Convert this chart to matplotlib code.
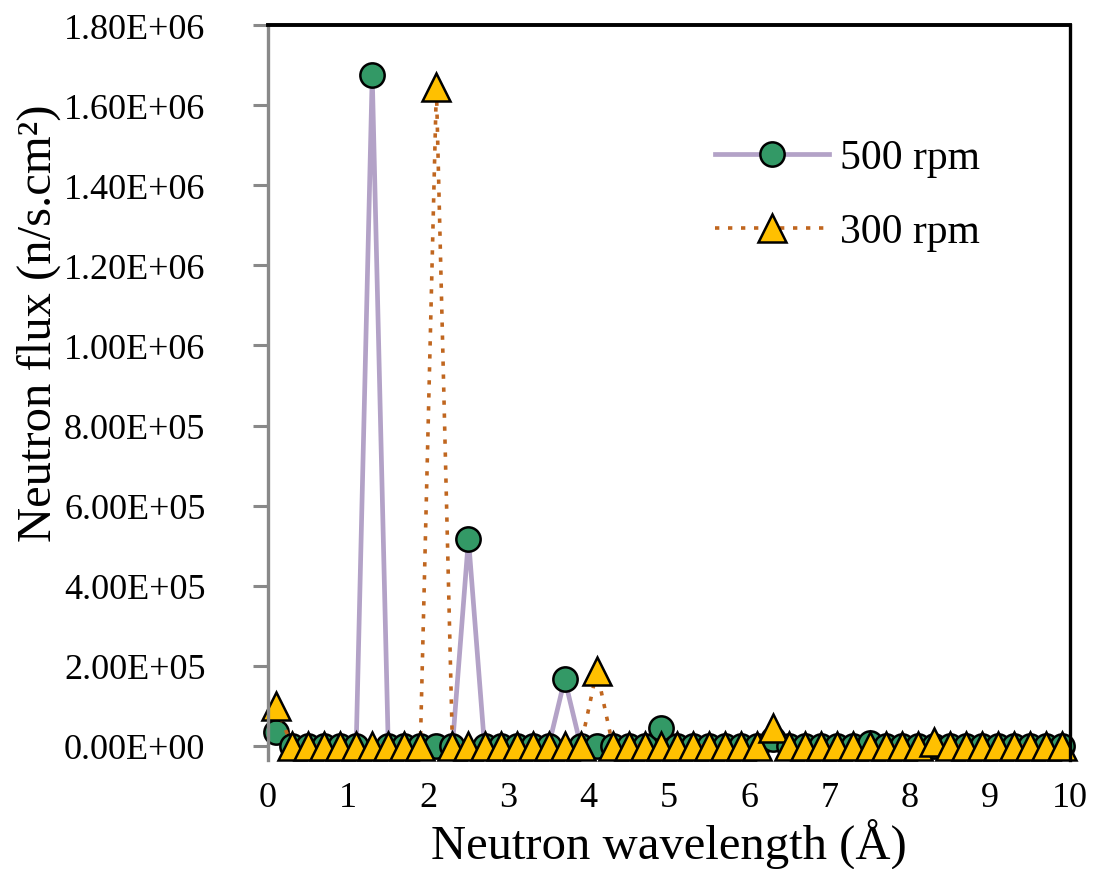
import matplotlib
matplotlib.use("Agg")
import matplotlib.pyplot as plt
from matplotlib.ticker import FormatStrFormatter

plt.rcParams['font.family'] = ['Liberation Serif', 'DejaVu Serif']

# wavelength grid (Angstrom), shared by both chopper speeds
wavelength = [0.1, 0.3, 0.5, 0.7, 0.9, 1.1, 1.3, 1.5, 1.7, 1.9,
              2.1, 2.3, 2.5, 2.7, 2.9, 3.1, 3.3, 3.5, 3.7, 3.9,
              4.1, 4.3, 4.5, 4.7, 4.9, 5.1, 5.3, 5.5, 5.7, 5.9,
              6.1, 6.3, 6.5, 6.7, 6.9, 7.1, 7.3, 7.5, 7.7, 7.9,
              8.1, 8.3, 8.5, 8.7, 8.9, 9.1, 9.3, 9.5, 9.7, 9.9]

flux_500 = [3.5e4, 0, 0, 0, 0, 0, 1.675e6, 0, 0, 0,
            0, 0, 5.17e5, 0, 0, 0, 0, 0, 1.67e5, 0,
            0, 0, 0, 0, 4.4e4, 0, 0, 0, 0, 0,
            0, 1.7e4, 0, 0, 0, 0, 0, 8e3, 0, 0,
            0, 0, 0, 0, 0, 0, 0, 0, 0, 0]

flux_300 = [1.0e5, 0, 0, 0, 0, 0, 0, 0, 0, 0,
            1.645e6, 0, 0, 0, 0, 0, 0, 0, 0, 0,
            1.88e5, 0, 0, 0, 0, 0, 0, 0, 0, 0,
            0, 4.5e4, 0, 0, 0, 0, 0, 0, 0, 0,
            0, 1e4, 0, 0, 0, 0, 0, 0, 0, 0]

x_ticks = [0, 1, 2, 3, 4, 5, 6, 7, 8, 9, 10]
y_ticks = [0, 2e5, 4e5, 6e5, 8e5, 1.0e6, 1.2e6, 1.4e6, 1.6e6, 1.8e6]


def _main():
    fig = plt.figure(figsize=(10.95, 8.7), dpi=100)
    ax = fig.add_axes([0.2447, 0.1253, 0.7325, 0.8448])

    ax.plot(wavelength, flux_500, color='#b3a2c7', lw=3.4,
            marker='o', ms=17.5, mfc='#339966', mec='black', mew=1.8,
            label='500 rpm', clip_on=False)
    ax.plot(wavelength, flux_300, color='#c0661f', lw=2.6, ls=(0, (1.2, 2.4)),
            marker='^', ms=20, mfc='#ffc000', mec='black', mew=1.8,
            label='300 rpm', clip_on=False)

    ax.set_xlim(0, 10)
    ax.set_ylim(-3.5e4, 1.8e6)
    ax.set_xticks(x_ticks)
    ax.set_yticks(y_ticks)
    ax.yaxis.set_major_formatter(FormatStrFormatter('%.2E'))

    ax.tick_params(axis='x', length=0, pad=15, labelsize=26)
    ax.tick_params(axis='y', length=11, width=2.2, color='#898989',
                   pad=34, labelsize=26)

    ax.spines['left'].set_color('#898989')
    ax.spines['left'].set_linewidth(2.4)
    ax.spines['top'].set_color('black')
    ax.spines['top'].set_linewidth(2.8)
    ax.spines['right'].set_color('black')
    ax.spines['right'].set_linewidth(2.4)
    ax.spines['bottom'].set_visible(False)

    ax.set_xlabel('Neutron wavelength (Å)', fontsize=35)
    ax.xaxis.set_label_coords(0.5, -0.078)
    ax.set_ylabel('Neutron flux (n/s.cm²)', fontsize=35)
    ax.yaxis.set_label_coords(-0.258, 0.596)

    ax.legend(loc='upper left', bbox_to_anchor=(0.536, 0.868), frameon=False,
              fontsize=30, handlelength=2.75, handletextpad=0.25,
              labelspacing=0.85, borderaxespad=0)

    fig.savefig('out.png', dpi=100)


if __name__ == '__main__':
    _main()
